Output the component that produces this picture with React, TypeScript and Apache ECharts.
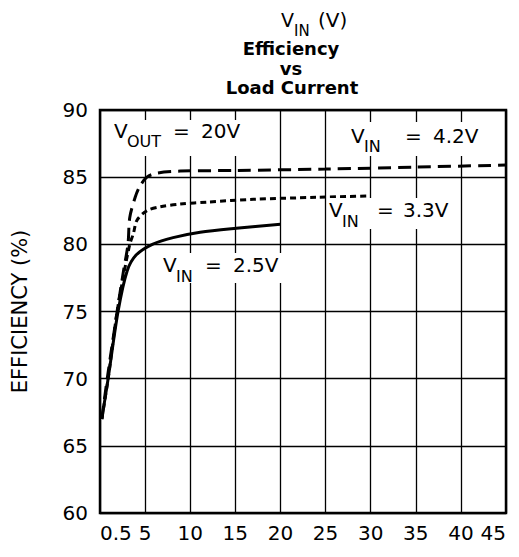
import React, { useEffect, useRef } from "react";
import * as echarts from "echarts";

// x axis: one grid step per 5 units; the first tick is printed as "0.5"
const xTickValues = [0, 5, 10, 15, 20, 25, 30, 35, 40, 45];
const xTickLabels = ["0.5", "5", "10", "15", "20", "25", "30", "35", "40", "45"];

// Efficiency (%) vs load current
const vin42: number[][] = [
  [0.2, 67], [0.8, 70], [1.9, 75], [2.6, 78], [3.1, 80], [3.3, 82], [3.9, 83.5],
  [4.4, 84.3], [5.2, 85], [6.3, 85.3], [8.9, 85.45], [15, 85.5], [25, 85.6],
  [35, 85.75], [45, 85.9],
];
const vin33: number[][] = [
  [0.2, 67], [0.9, 70], [1.9, 75], [2.7, 78], [3.3, 80], [3.7, 80.8], [4.1, 81.8],
  [5.2, 82.5], [6.7, 82.8], [8.9, 83.0], [12, 83.15], [17, 83.35], [24, 83.5],
  [30, 83.6],
];
const vin25: number[][] = [
  [0.2, 67], [0.9, 70], [2.0, 75], [3.0, 78], [4.0, 79.2], [5.8, 80], [8.1, 80.5],
  [11.1, 80.9], [15.1, 81.2], [20, 81.5],
];

const FONT = "DejaVu Sans";

type Part = { t: string; x: number; b: number; s: number; bold?: boolean; align?: string };

function textEl(p: Part) {
  return {
    type: "text",
    z: 101,
    x: p.x,
    y: p.b - 0.346 * p.s,
    style: {
      text: p.t,
      fontFamily: FONT,
      fontSize: p.s,
      fontWeight: p.bold ? "bold" : "normal",
      fill: "#000",
      align: p.align || "left",
      verticalAlign: "middle",
    },
  };
}

function mask(x: number, y: number, w: number, h: number) {
  return {
    type: "rect",
    z: 100,
    shape: { x, y, width: w, height: h },
    style: { fill: "#fff" },
  };
}

export default function App() {
  const ref = useRef<HTMLDivElement>(null);
  useEffect(() => {
    if (!ref.current) return;
    const chart = echarts.init(ref.current, undefined, { renderer: "svg" });
    const graphic: any[] = [
      // title
      textEl({ t: "V", x: 281, b: 27, s: 19 }),
      textEl({ t: "IN", x: 294, b: 36, s: 15 }),
      textEl({ t: "(V)", x: 318, b: 27, s: 20 }),
      textEl({ t: "Efficiency", x: 291, b: 55, s: 18, bold: true, align: "center" }),
      textEl({ t: "vs", x: 291, b: 75, s: 18, bold: true, align: "center" }),
      textEl({ t: "Load Current", x: 292, b: 94, s: 18, bold: true, align: "center" }),
      // V_OUT = 20V
      mask(110, 120, 137, 36),
      textEl({ t: "V", x: 114, b: 138, s: 20 }),
      textEl({ t: "OUT", x: 127, b: 147, s: 16 }),
      textEl({ t: "=", x: 173, b: 138, s: 20 }),
      textEl({ t: "20V", x: 201, b: 138, s: 20 }),
      // V_IN = 4.2V
      mask(347, 122, 140, 34),
      textEl({ t: "V", x: 351, b: 143, s: 20 }),
      textEl({ t: "IN", x: 364, b: 152, s: 16 }),
      textEl({ t: "=", x: 405, b: 143, s: 20 }),
      textEl({ t: "4.2V", x: 433, b: 143, s: 20 }),
      // V_IN = 3.3V
      mask(328, 198, 128, 31),
      textEl({ t: "V", x: 329, b: 217, s: 20 }),
      textEl({ t: "IN", x: 342, b: 227, s: 16 }),
      textEl({ t: "=", x: 377, b: 217, s: 20 }),
      textEl({ t: "3.3V", x: 403, b: 217, s: 20 }),
      // V_IN = 2.5V
      mask(160, 253, 130, 30),
      textEl({ t: "V", x: 163, b: 272, s: 20 }),
      textEl({ t: "IN", x: 176, b: 282, s: 16 }),
      textEl({ t: "=", x: 205, b: 272, s: 20 }),
      textEl({ t: "2.5V", x: 233, b: 272, s: 20 }),
    ];

    const base = {
      type: "line",
      showSymbol: false,
      smooth: 0.3,
      z: 5,
    };

    chart.setOption({
      animation: false,
      backgroundColor: "#fff",
      grid: {
        left: 100,
        right: 13,
        top: 110,
        bottom: 44,
        show: true,
        borderColor: "#000",
        borderWidth: 2.5,
        backgroundColor: "transparent",
        z: 3,
      },
      xAxis: {
        type: "value",
        min: 0,
        max: 45,
        interval: 5,
        axisLine: { show: false },
        axisTick: { show: false },
        splitLine: { show: true, lineStyle: { color: "#000", width: 1.3 } },
        axisLabel: {
          margin: 10,
          fontFamily: FONT,
          fontSize: 20,
          color: "#000",
          alignMinLabel: "left",
          alignMaxLabel: "right",
          formatter: (v: number) => {
            const i = xTickValues.indexOf(v);
            return i >= 0 ? xTickLabels[i] : "";
          },
        },
      },
      yAxis: {
        type: "value",
        min: 60,
        max: 90,
        interval: 5,
        name: "EFFICIENCY (%)",
        nameLocation: "middle",
        nameGap: 70,
        nameTextStyle: { fontFamily: FONT, fontSize: 21, color: "#000" },
        axisLine: { show: false },
        axisTick: { show: false },
        splitLine: { show: true, lineStyle: { color: "#000", width: 1.3 } },
        axisLabel: { margin: 12, fontFamily: FONT, fontSize: 20, color: "#000" },
      },
      series: [
        { ...base, name: "4.2V", data: vin42, lineStyle: { color: "#000", width: 3, type: [13, 7] } },
        { ...base, name: "3.3V", data: vin33, lineStyle: { color: "#000", width: 3, type: [6, 4] } },
        { ...base, name: "2.5V", data: vin25, lineStyle: { color: "#000", width: 3, type: "solid" } },
      ],
      graphic,
    });
    return () => chart.dispose();
  }, []);
  return (
    <div
      ref={ref}
      style={{ position: "fixed", left: 0, top: 0, width: 519, height: 557, background: "#fff" }}
    />
  );
}
